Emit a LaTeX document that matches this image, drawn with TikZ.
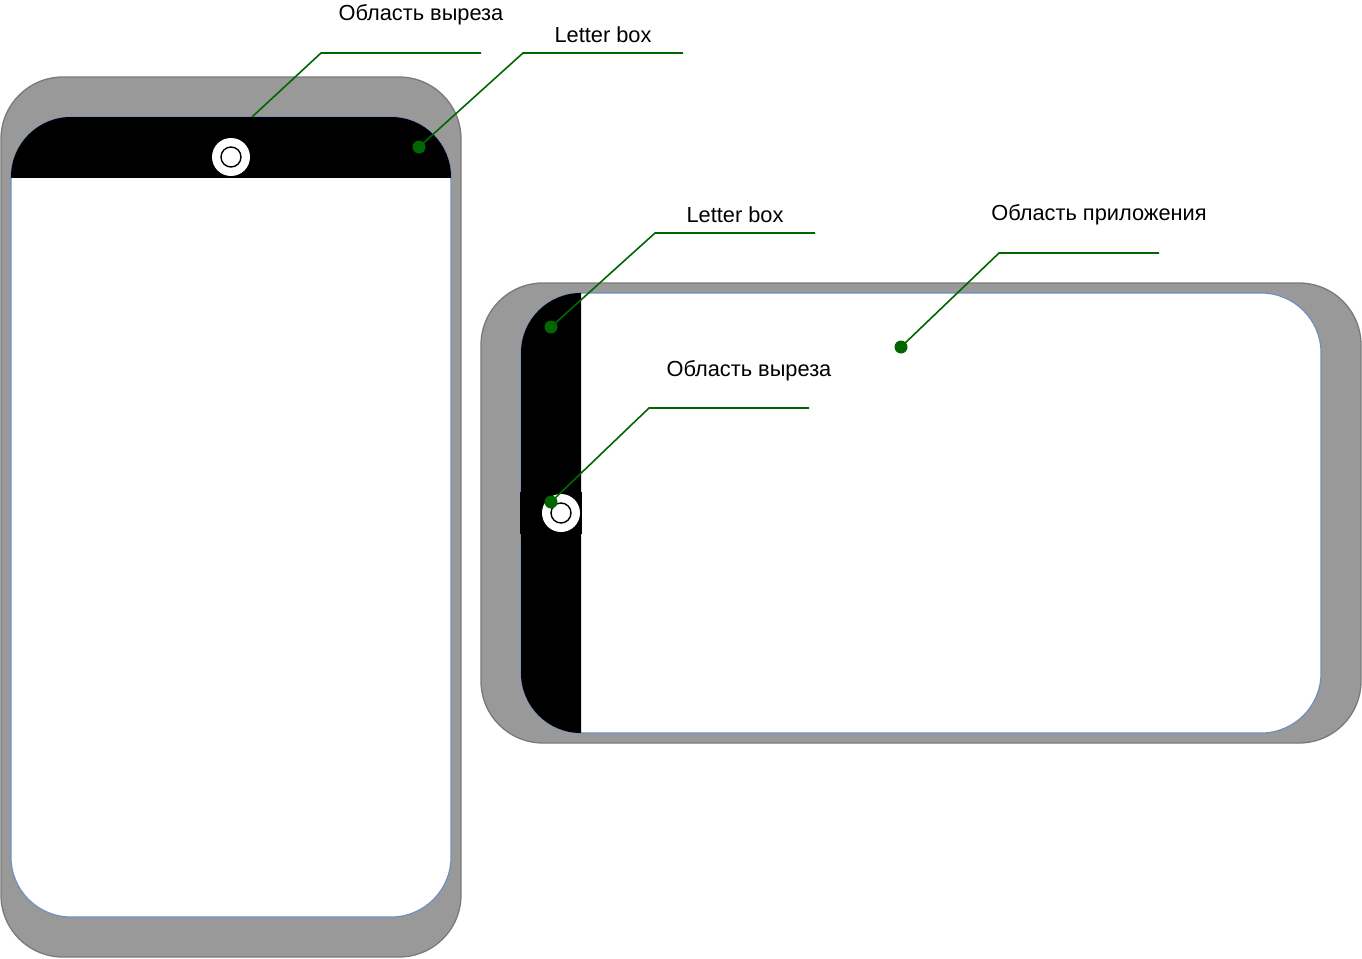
\documentclass[tikz,border=0pt]{standalone}
\usepackage{fontspec}
\setmainfont{Liberation Sans}
\definecolor{bodygray}{HTML}{999999}
\definecolor{bodyedge}{HTML}{7A7A7A}
\definecolor{screenedge}{HTML}{6C8EBF}
\definecolor{leadgreen}{HTML}{006600}
\tikzset{
  body/.style={fill=bodygray, draw=bodyedge, line width=1.3pt, rounded corners=62pt},
  screen/.style={fill=white, draw=screenedge, line width=1.1pt, rounded corners=60pt},
  leader/.style={draw=leadgreen, line width=1.6pt},
  dotn/.style={circle, fill=leadgreen, inner sep=0pt, minimum size=13pt},
  lbl/.style={font=\fontsize{21.8}{24}\selectfont, inner sep=0pt},
  lens/.style={circle, fill=white, inner sep=0pt, minimum size=38pt},
  lensin/.style={circle, fill=white, draw=black, line width=1.4pt, inner sep=0pt, minimum size=20pt},
}
\begin{document}
\begin{tikzpicture}[x=1pt,y=-1pt]
\useasboundingbox (0,0) rectangle (1362,958);
% ---------------- portrait phone ----------------
\draw[body] (1,77) rectangle (461,957);
\draw[screen] (11,117) rectangle (451,917);
\begin{scope}
  \clip (0,100) rectangle (470,177);
  \fill[black, rounded corners=60pt] (11,117) rectangle (451,917);
\end{scope}
\fill[black] (210,117) rectangle (252,178);
\node[lens] (pcam) at (231,157) {};
\node[lensin] (pcamin) at (231,157) {};
% ---------------- landscape phone ----------------
\draw[body] (481,283) rectangle (1361,743);
\draw[screen] (521,293) rectangle (1321,733);
\begin{scope}
  \clip (500,280) rectangle (581,750);
  \fill[black, rounded corners=60pt] (521,293) rectangle (1321,733);
\end{scope}
\fill[black] (520,492) rectangle (582,534);
\node[lens] (lcam) at (561,513) {};
\node[lensin] (lcamin) at (561,513) {};
% ---------------- leaders & labels ----------------
% portrait cutout
\coordinate (s1) at (252,117);
\coordinate (k1) at (321,53);
\coordinate (e1) at (481,53);
\draw[leader] (s1) -- (k1) -- (e1);
\node[lbl] (t1) at (421,14.5) {Область выреза};
% portrait letter box
\node[dotn] (d2) at (419,147) {};
\coordinate (k2) at (523,53);
\coordinate (e2) at (683,53);
\draw[leader] (d2.center) -- (k2) -- (e2);
\node[lbl] (t2) at (603,34.5) {Letter box};
% landscape letter box
\node[dotn] (d3) at (551,327) {};
\coordinate (k3) at (655,233);
\coordinate (e3) at (815,233);
\draw[leader] (d3.center) -- (k3) -- (e3);
\node[lbl] (t3) at (735,214.5) {Letter box};
% landscape app area
\node[dotn] (d4) at (901,347) {};
\coordinate (k4) at (999,253);
\coordinate (e4) at (1159,253);
\draw[leader] (d4.center) -- (k4) -- (e4);
\node[lbl] (t4) at (1099,214.5) {Область приложения};
% landscape cutout
\node[dotn] (d5) at (551,502) {};
\coordinate (k5) at (649,408);
\coordinate (e5) at (809,408);
\draw[leader] (d5.center) -- (k5) -- (e5);
\node[lbl] (t5) at (749,370.5) {Область выреза};
\end{tikzpicture}
\end{document}
